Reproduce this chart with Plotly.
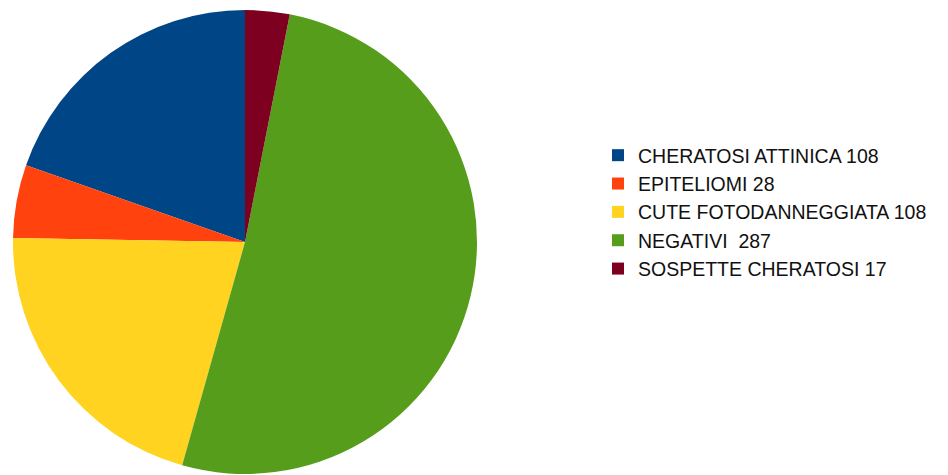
import plotly.graph_objects as go

labels = ["CHERATOSI ATTINICA 108", "EPITELIOMI 28", "CUTE FOTODANNEGGIATA 108",
          "NEGATIVI  287", "SOSPETTE CHERATOSI 17"]
# slice sizes as drawn in the picture (measured from slice angles)
values = [108, 28, 115, 282, 17]
colors = ["#004586", "#ff420e", "#ffd320", "#579d1c", "#7e0021"]

W, H = 948, 475
off = 8  # page body margin
cx, cy, r = 245 - off, 242 - off, 232

rot = -values[0] / sum(values) * 360

fig = go.Figure(go.Pie(
    labels=labels, values=values, sort=False, direction="counterclockwise",
    rotation=rot, textinfo="none", hoverinfo="label",
    marker=dict(colors=colors, line=dict(width=0)),
    domain=dict(x=[(cx - r) / W, (cx + r) / W], y=[(H - cy - r) / H, (H - cy + r) / H]),
))
fig.update_layout(
    width=W, height=H, margin=dict(l=0, r=0, t=0, b=0),
    paper_bgcolor="white", plot_bgcolor="white",
    font=dict(family="Liberation Sans", size=19.5, color="#111111"),
    legend=dict(x=(638 - off - 40) / W, y=1 - 128 / H, xanchor="left", yanchor="top",
                font=dict(size=19.5), bgcolor="rgba(0,0,0,0)"),
)
fig.write_html("out.html")
